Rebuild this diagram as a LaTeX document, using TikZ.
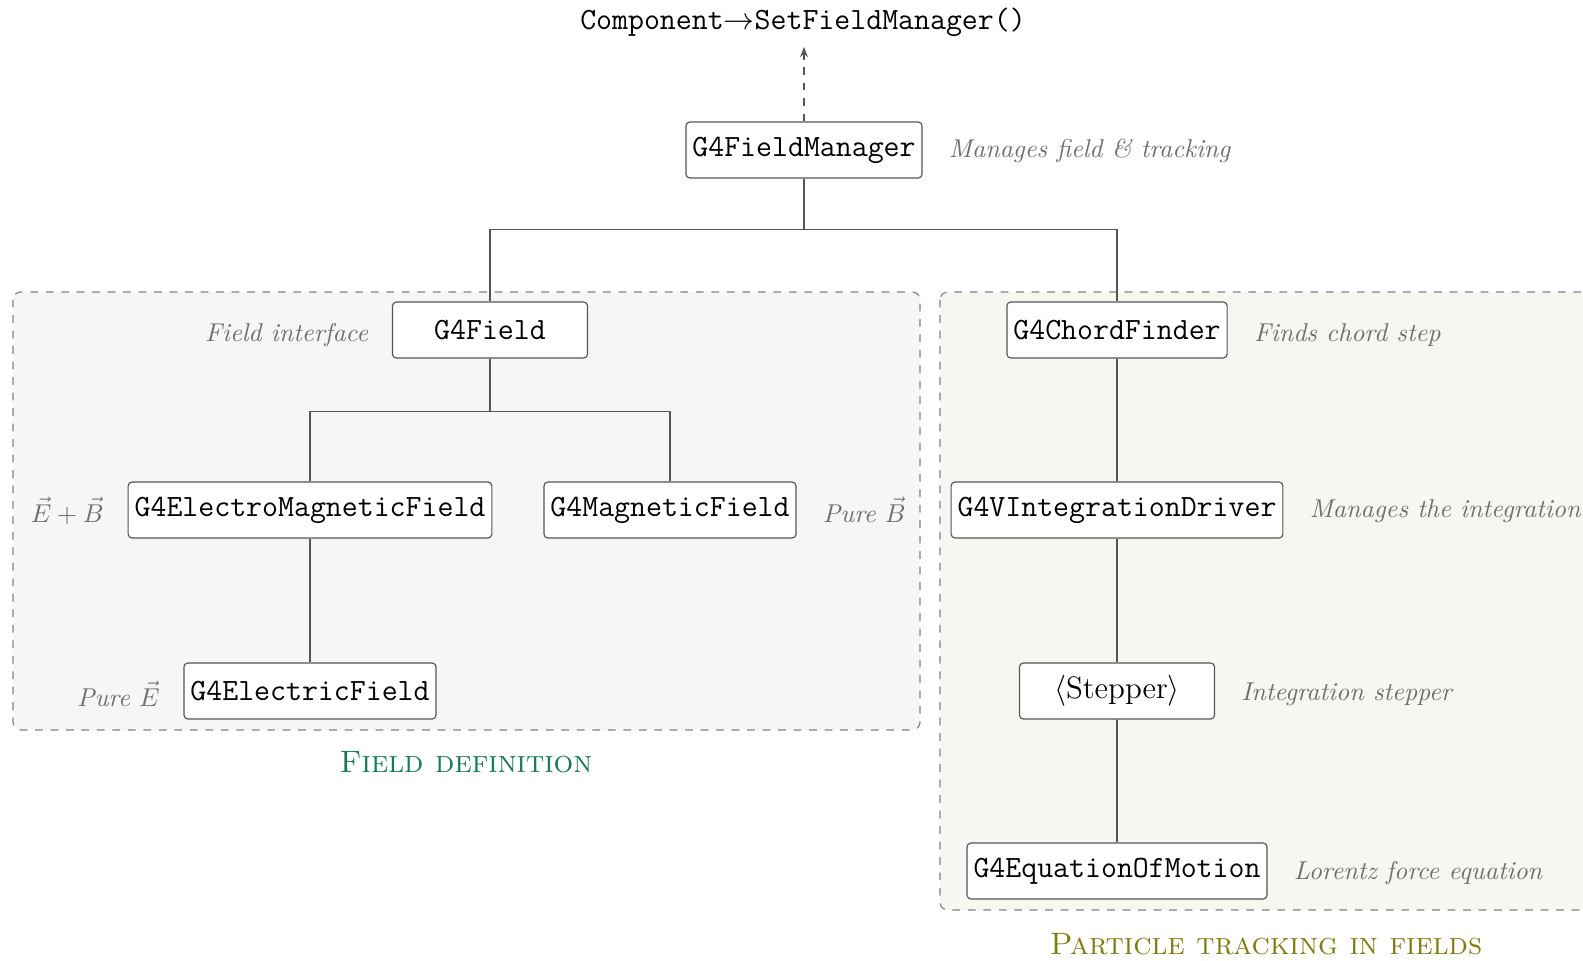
\documentclass[tikz,border=0pt]{standalone}
\usetikzlibrary{arrows.meta}
\definecolor{boxline}{RGB}{85,85,85}
\definecolor{notegray}{RGB}{110,110,110}
\definecolor{leftfill}{RGB}{244,247,246}
\definecolor{rightfill}{RGB}{247,247,242}
\definecolor{dashgray}{RGB}{130,130,130}
\definecolor{fieldgreen}{RGB}{20,122,90}
\definecolor{trackolive}{RGB}{125,125,15}
\begin{document}
\begin{tikzpicture}[x=0.3876pt,y=-0.3876pt,
  cls/.style={draw=boxline, fill=white, rounded corners=1.5pt, line width=0.45pt,
    minimum height=21.7pt, minimum width=75.6pt, inner xsep=2.5pt, font=\large\ttfamily},
  note/.style={text=notegray, font=\itshape, inner sep=0pt},
  conn/.style={draw=boxline, line width=0.45pt},
  region/.style={draw=dashgray, dashed, rounded corners=3pt, line width=0.45pt},
  grouptitle/.style={font=\large\scshape, inner sep=0pt}]
\clip (0,0) rectangle (1583,960);
% regions
\path[region, fill=leftfill] (13,292) rectangle (920,730);
\path[region, fill=rightfill] (940,292) rectangle (1650,910);
% top call
\node[font=\large\ttfamily, inner sep=0pt] (comp) at (803,22) {Component$\rightarrow$SetFieldManager()};
% class boxes
\node[cls] (fm) at (804,150) {G4FieldManager};
\node[cls] (field) at (490,330) {G4Field};
\node[cls] (chord) at (1117,330) {G4ChordFinder};
\node[cls] (em) at (310,510) {G4ElectroMagneticField};
\node[cls] (mag) at (670,510) {G4MagneticField};
\node[cls] (elec) at (310,691) {G4ElectricField};
\node[cls] (driver) at (1117,510) {G4VIntegrationDriver};
\node[cls, font=\large\rmfamily] (stepper) at (1117,691) {$\langle$Stepper$\rangle$};
\node[cls] (eom) at (1117,871) {G4EquationOfMotion};
% connectors
\draw[conn, dashed, -{Stealth[length=4pt,width=3pt]}, shorten >=3.9pt] (fm.north) -- (fm.north |- comp.south);
\draw[conn] (fm.south) -- ++(0,51) -| (field.north);
\draw[conn] (fm.south) -- ++(0,51) -| (chord.north);
\draw[conn] (field.south) -- ++(0,53) -| (em.north);
\draw[conn] (field.south) -- ++(0,53) -| (mag.north);
\draw[conn] (em.south) -- (elec.north);
\draw[conn] (chord.south) -- (driver.north);
\draw[conn] (driver.south) -- (stepper.north);
\draw[conn] (stepper.south) -- (eom.north);
% annotations
\node[note, anchor=base west] (nfm) at ([xshift=10pt,yshift=-0.7pt]fm.base east) {Manages field \& tracking};
\node[note, anchor=base east] (nfield) at ([xshift=-9pt,yshift=-0.7pt]field.base west) {Field interface};
\node[note, anchor=base west] (nchord) at ([xshift=10pt,yshift=-0.7pt]chord.base east) {Finds chord step};
\node[note, anchor=base east] (nem) at ([xshift=-9pt,yshift=-2.3pt]em.base west) {$\vec{E}+\vec{B}$};
\node[note, anchor=base west] (nmag) at ([xshift=10pt,yshift=-2.3pt]mag.base east) {Pure $\vec{B}$};
\node[note, anchor=base east] (nelec) at ([xshift=-9pt,yshift=-2.3pt]elec.base west) {Pure $\vec{E}$};
\node[note, anchor=base west] (ndriver) at ([xshift=10pt,yshift=-0.7pt]driver.base east) {Manages the integration};
\node[note, anchor=base west] (nstep) at ([xshift=10pt,yshift=-0.7pt]stepper.base east) {Integration stepper};
\node[note, anchor=base west] (neom) at ([xshift=10pt,yshift=-0.7pt]eom.base east) {Lorentz force equation};
% titles
\node[grouptitle, text=fieldgreen] (tfield) at (466,762) {Field definition};
\node[grouptitle, text=trackolive] (ttrack) at (1266,944) {Particle tracking in fields};
\end{tikzpicture}
\end{document}
